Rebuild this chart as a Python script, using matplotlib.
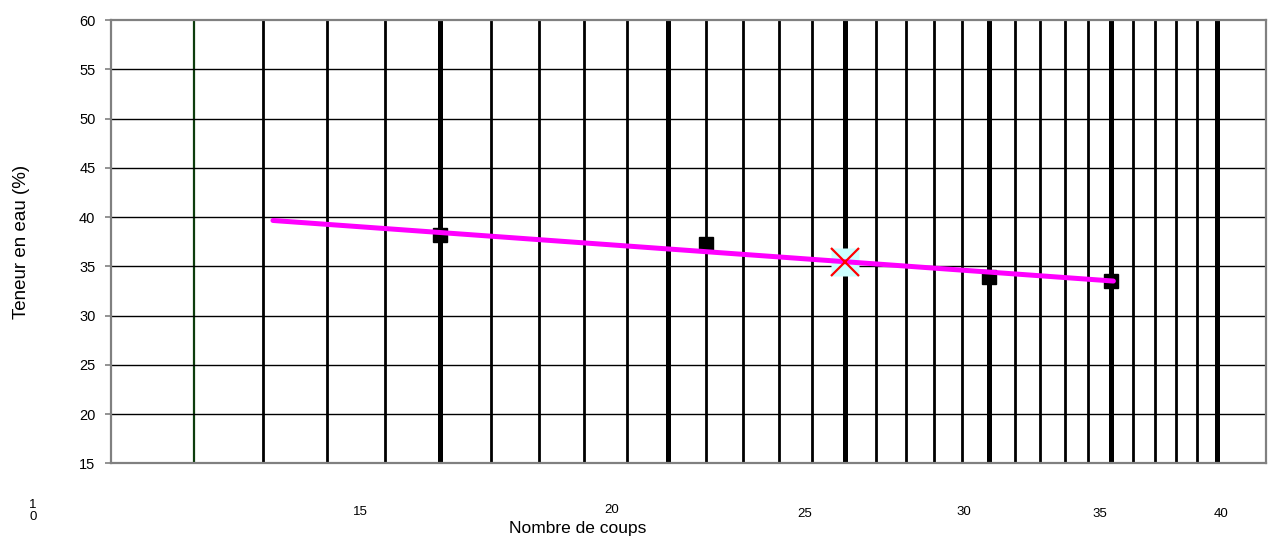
import matplotlib
matplotlib.use("Agg")
import matplotlib.pyplot as plt

# mesures (Casagrande)
coups = [15, 21, 30, 35]
teneur = [38.2, 37.25, 33.9, 33.55]

# droite de tendance (log)
trend_coups = [12.15, 35.1]
trend_teneur = [39.65, 33.5]

# limite de liquidite a 25 coups
ll_coups = [25]
ll_teneur = [35.45]

# lignes verticales du quadrillage
green_n = [11]
thin_n = [12, 13, 14, 16, 17, 18, 19, 21, 22, 23, 24, 26, 27, 28, 29,
          31, 32, 33, 34, 36, 37, 38, 39]
thick_n = [15, 20, 25, 30, 35, 40]

y_ticks = [15, 20, 25, 30, 35, 40, 45, 50, 55, 60]

# etiquettes sous le graphique (zones de texte libres)
bottom_labels = ["1\n0", "15", "20", "25", "30", "35", "40"]
bottom_px = [(33, 511), (360, 512), (612, 510), (805, 514), (964, 512), (1100, 514), (1221, 514)]

W, H = 1273, 540
plt.rcParams['font.family'] = ['Liberation Sans', 'DejaVu Sans']

fig = plt.figure(figsize=(W / 100, H / 100), dpi=100)
ax = fig.add_axes([110.7 / W, 1 - 463.3 / H, 1155 / W, 443.3 / H])

ax.set_xscale('log')
ax.set_xlim(9.9, 42.54)
ax.set_ylim(15, 60)

for n in thin_n:
    ax.axvline(n, color='black', lw=2.0, zorder=1)
for n in thick_n:
    ax.axvline(n, color='black', lw=3.6, zorder=1)
for n in green_n:
    ax.axvline(n, color='#0d3d0d', lw=1.6, zorder=1)
for y in y_ticks[1:-1]:
    ax.axhline(y, color='black', lw=1.0, zorder=1)

ax.plot(ll_coups, ll_teneur, marker='s', ms=20, mfc='#ccffff', mec='none',
        ls='none', zorder=2)
ax.plot(coups, teneur, marker='s', ms=9.5, color='black', ls='none', zorder=3)
ax.plot(trend_coups, trend_teneur, color='#ff00ff', lw=3.6, solid_capstyle='round', zorder=4)
ax.plot(ll_coups, ll_teneur, marker='x', ms=19.5, mew=1.6, color='#ff0000',
        ls='none', zorder=5)

ax.set_xticks([])
ax.set_xticks([], minor=True)
ax.set_yticks(y_ticks)
ax.tick_params(axis='y', labelsize=10.5, length=4, width=1.2, color='#808080', pad=7)
for s in ax.spines.values():
    s.set_color('#808080')
    s.set_linewidth(1.6)
    s.set_zorder(6)

ax.set_ylabel("Teneur en eau (%)", fontsize=13.5)
ax.yaxis.set_label_coords(-81 / 1155, 0.5)

for lab, (px, py) in zip(bottom_labels, bottom_px):
    fig.text(px / W, 1 - py / H, lab, fontsize=9.5, ha='center', va='center', linespacing=1.0)
fig.text(578 / W, 1 - 529 / H, "Nombre de coups", fontsize=12.5, ha='center', va='center')

fig.savefig("out.png", dpi=100)
